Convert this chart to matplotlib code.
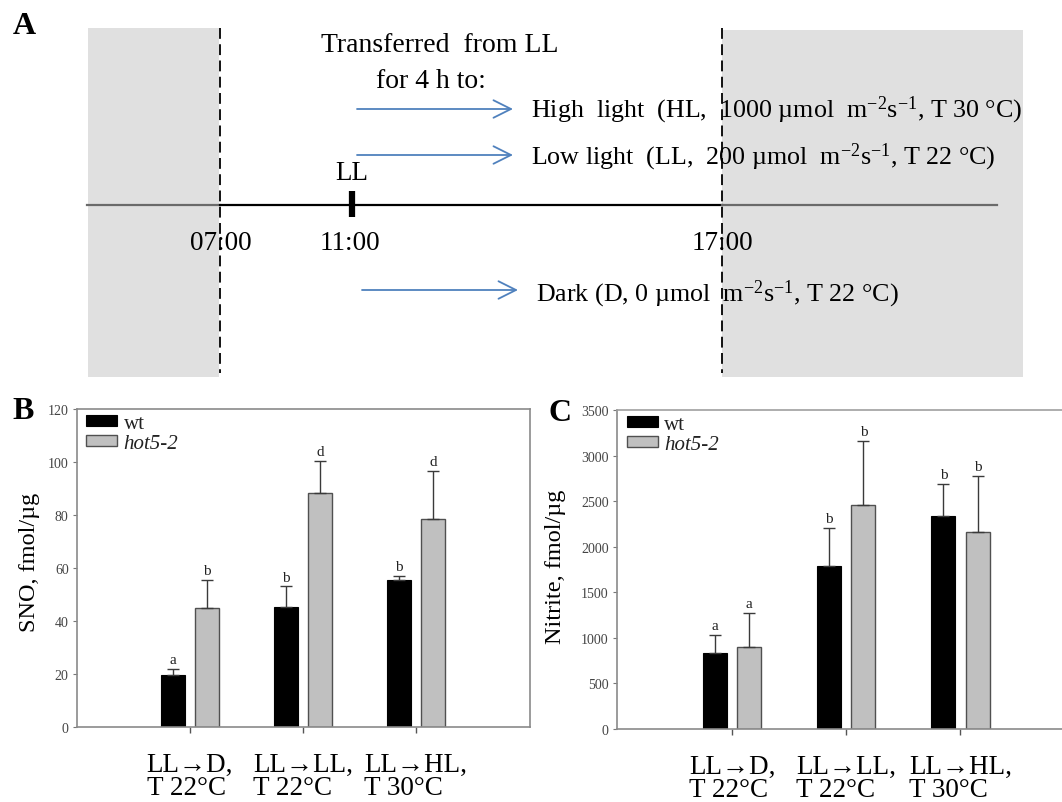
import matplotlib
matplotlib.use("Agg")
import matplotlib.pyplot as plt
from matplotlib.patches import Rectangle

plt.rcParams['font.family'] = ['Liberation Serif', 'DejaVu Serif']
plt.rcParams['mathtext.fontset'] = 'custom'
plt.rcParams['mathtext.rm'] = 'Liberation Serif'
plt.rcParams['mathtext.it'] = 'Liberation Serif:italic'

# ---------------- data ----------------
categories = ["LL\u2192D,\nT 22\u00b0C", "LL\u2192LL,\nT 22\u00b0C", "LL\u2192HL,\nT 30\u00b0C"]
series_names = ["wt", "hot5-2"]

sno_wt = [19.7, 45.2, 55.5]
sno_wt_err = [2.2, 7.9, 1.6]
sno_hot = [44.8, 88.3, 78.4]
sno_hot_err = [10.6, 12.1, 18.2]
sno_wt_letters = ["a", "b", "b"]
sno_hot_letters = ["b", "d", "d"]

nit_wt = [833, 1792, 2341]
nit_wt_err = [200, 413, 347]
nit_hot = [902, 2461, 2165]
nit_hot_err = [371, 699, 615]
nit_wt_letters = ["a", "b", "b"]
nit_hot_letters = ["a", "b", "b"]

sno_yticks = [0, 20, 40, 60, 80, 100, 120]
nit_yticks = [0, 500, 1000, 1500, 2000, 2500, 3000, 3500]

time_labels = ["07:00", "11:00", "17:00"]
transfer_title = ["Transferred  from LL", "for 4 h to:"]
units = "m$^{\\mathregular{-2}}$s$^{\\mathregular{-1}}$"
conditions = [
    "High  light  (HL,  1000 \u00b5mol  " + units + ", T 30 \u00b0C)",
    "Low light  (LL,  200 \u00b5mol  " + units + ", T 22 \u00b0C)",
    "Dark (D, 0 \u00b5mol  " + units + ", T 22 \u00b0C)",
]

# ---------------- figure ----------------
W, H = 1062, 803
fig = plt.figure(figsize=(W / 100, H / 100), dpi=100)

# Panel A: schematic in pixel coordinates
axA = fig.add_axes([0, 0, 1, 1], zorder=0)
axA.set_xlim(0, W)
axA.set_ylim(H, 0)
axA.axis("off")

gray_bg = "#e0e0e0"
axA.add_patch(Rectangle((88, 29), 131, 349, facecolor=gray_bg, edgecolor="none"))
axA.add_patch(Rectangle((722, 31), 301, 347, facecolor=gray_bg, edgecolor="none"))
for xd in (220, 722):
    axA.plot([xd, xd], [29, 374], color="black", lw=1.3, ls=(0, (6, 3)))
axA.plot([87, 220], [206, 206], color="#6a6a6a", lw=1.6)
axA.plot([220, 722], [206, 206], color="black", lw=1.6)
axA.plot([722, 997], [206, 206], color="#6a6a6a", lw=1.6)
axA.plot([352, 352], [192, 218], color="black", lw=4.5, solid_capstyle="butt")

fs_big = 19.5
axA.text(352, 174, "LL", ha="center", va="center", fontsize=fs_big)
for xt, lab in zip([221, 350, 722], time_labels):
    axA.text(xt, 244, lab, ha="center", va="center", fontsize=fs_big)
axA.text(440, 45, transfer_title[0], ha="center", va="center", fontsize=20)
axA.text(431, 82, transfer_title[1], ha="center", va="center", fontsize=20)

arrow_col = "#4f81bd"
for (x0, x1, ya) in [(357, 513, 110), (357, 513, 156), (362, 518, 291)]:
    axA.annotate("", xy=(x1, ya), xytext=(x0, ya),
                 arrowprops=dict(arrowstyle="->,head_length=0.9,head_width=0.45",
                                 color=arrow_col, lw=1.3, shrinkA=0, shrinkB=0,
                                 mutation_scale=14))
for (xt, yt), txt in zip([(531, 110), (531, 157), (536, 294)], conditions):
    axA.text(xt, yt, txt, ha="left", va="center", fontsize=18.7)

axA.text(24, 27, "A", ha="center", va="center", fontsize=23, fontweight="bold")
axA.text(23, 412, "B", ha="center", va="center", fontsize=23, fontweight="bold")
axA.text(560, 414, "C", ha="center", va="center", fontsize=23, fontweight="bold")


def px_axes(left, top, right, bottom):
    return [left / W, 1 - bottom / H, (right - left) / W, (bottom - top) / H]


def bar_panel(rect, wt, wt_err, hot, hot_err, wt_let, hot_let, yticks, ylabel,
              xlim, label_coords, legend_anchor, right_spine=True):
    ax = fig.add_axes(rect, zorder=2)
    x = list(range(len(categories)))
    off, bw = 0.15, 0.21
    xw = [i - off for i in x]
    xh = [i + off for i in x]
    ekw = dict(ecolor="#3a3a3a", elinewidth=1.0, capsize=4, capthick=1.0)
    b1 = ax.bar(xw, wt, bw, color="black", edgecolor="black", lw=0.8,
                yerr=[[0] * len(wt), wt_err], error_kw=ekw, label=series_names[0])
    b2 = ax.bar(xh, hot, bw, color="#c0c0c0", edgecolor="#505050", lw=1.0,
                yerr=[[0] * len(hot), hot_err], error_kw=ekw, label=series_names[1])
    for xs, vals, errs, lets in [(xw, wt, wt_err, wt_let), (xh, hot, hot_err, hot_let)]:
        for xi, v, e, l in zip(xs, vals, errs, lets):
            ax.annotate(l, (xi, v + e), xytext=(0, 2), textcoords="offset points",
                        ha="center", va="bottom", fontsize=11, color="#222222")
    ax.set_xlim(*xlim)
    ax.set_ylim(yticks[0], yticks[-1])
    ax.set_yticks(yticks)
    ax.set_xticks(x)
    ax.set_xticklabels(categories, fontsize=fs_big, linespacing=0.9,
                       multialignment="left")
    ax.tick_params(axis="x", length=4, width=1, color="#555555", pad=14,
                   direction="out")
    ax.tick_params(axis="y", length=3, width=0.8, color="#777777",
                   labelsize=10, labelcolor="#444444", pad=3)
    for s in ax.spines.values():
        s.set_color("#8a8a8a")
        s.set_linewidth(1.2)
    if not right_spine:
        ax.spines["right"].set_visible(False)
        ax.spines["top"].set_color("#a0a0a0")
    ax.set_ylabel(ylabel, fontsize=17.5, va="center")
    ax.yaxis.set_label_coords(*label_coords)
    leg = ax.legend(handles=[b1, b2], loc="upper left", bbox_to_anchor=legend_anchor,
                    frameon=False, fontsize=15, handlelength=1.5, handleheight=0.45,
                    handletextpad=0.3, labelspacing=0.05, borderpad=0,
                    borderaxespad=0)
    leg.get_texts()[1].set_fontstyle("italic")
    for t in leg.get_texts():
        t.set_color("#222222")
    return ax


bar_panel(px_axes(77, 410, 530, 728), sno_wt, sno_wt_err, sno_hot, sno_hot_err,
          sno_wt_letters, sno_hot_letters, sno_yticks, "SNO, fmol/\u00b5g",
          (-1.0, 3.01), (-0.104, 0.52), (0.02, 0.985))
bar_panel(px_axes(617, 411, 1062, 730), nit_wt, nit_wt_err, nit_hot, nit_hot_err,
          nit_wt_letters, nit_hot_letters, nit_yticks, "Nitrite, fmol/\u00b5g",
          (-1.01, 2.89), (-0.139, 0.51), (0.022, 0.985), right_spine=False)

fig.savefig("out.png", dpi=100)
